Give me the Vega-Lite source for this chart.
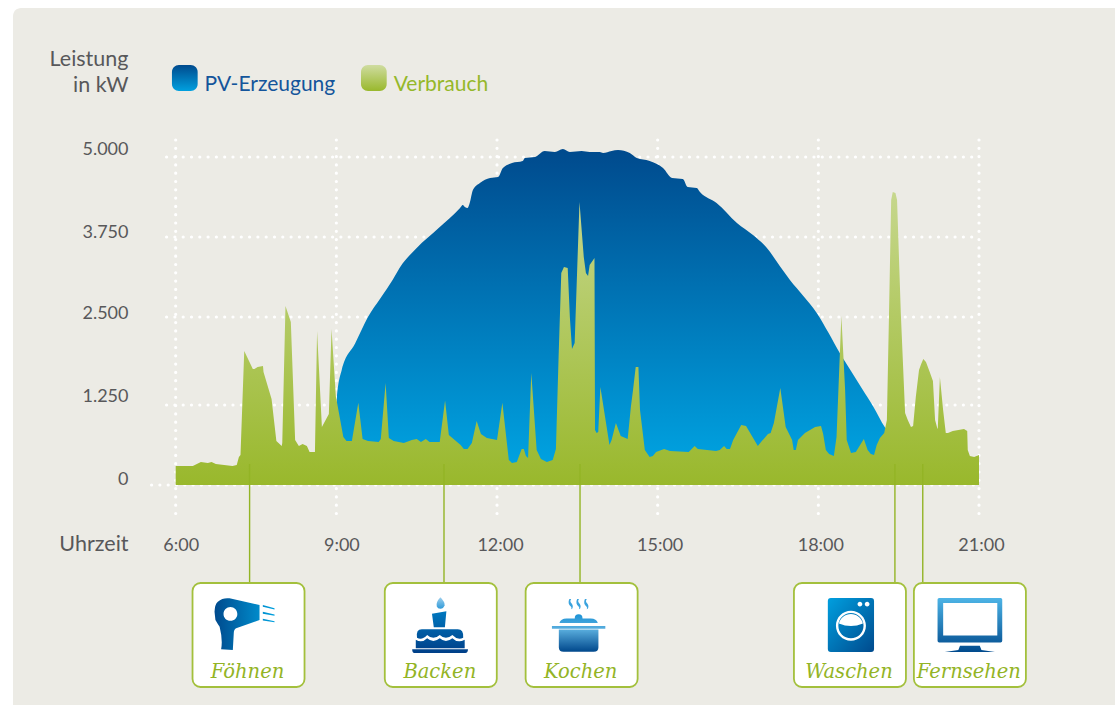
{
"$schema":"https://vega.github.io/schema/vega-lite/v6.json",
"width":1110,"height":705,
"autosize":{"type":"none"},
"padding":{"left":13,"top":8,"right":0,"bottom":0},
"background":"#ffffff",
"view":{"fill":"#ecebe5","stroke":null,"cornerRadius":8},
"datasets":{
"pv":[{"hour":8.97,"kW":0},{"hour":9.01,"kW":1349},{"hour":9.10,"kW":1747},{"hour":9.35,"kW":2123},{"hour":9.59,"kW":2500},{"hour":9.82,"kW":2789},{"hour":10.05,"kW":3078},{"hour":10.18,"kW":3266},{"hour":10.50,"kW":3578},{"hour":10.91,"kW":3890},{"hour":11.31,"kW":4203},{"hour":11.36,"kW":4250},{"hour":11.40,"kW":4219},{"hour":11.45,"kW":4203},{"hour":11.49,"kW":4281},{"hour":11.55,"kW":4484},{"hour":11.68,"kW":4594},{"hour":11.87,"kW":4672},{"hour":12.02,"kW":4688},{"hour":12.11,"kW":4828},{"hour":12.28,"kW":4906},{"hour":12.48,"kW":4938},{"hour":12.52,"kW":4984},{"hour":12.71,"kW":5000},{"hour":12.89,"kW":5094},{"hour":13.08,"kW":5078},{"hour":13.23,"kW":5125},{"hour":13.36,"kW":5078},{"hour":13.58,"kW":5094},{"hour":13.73,"kW":5078},{"hour":13.92,"kW":5078},{"hour":13.98,"kW":5063},{"hour":14.14,"kW":5094},{"hour":14.26,"kW":5109},{"hour":14.48,"kW":5063},{"hour":14.61,"kW":4984},{"hour":14.85,"kW":4938},{"hour":15.10,"kW":4828},{"hour":15.27,"kW":4672},{"hour":15.47,"kW":4656},{"hour":15.56,"kW":4531},{"hour":15.73,"kW":4516},{"hour":15.79,"kW":4453},{"hour":16.10,"kW":4281},{"hour":16.48,"kW":3969},{"hour":16.78,"kW":3781},{"hour":17.04,"kW":3578},{"hour":17.28,"kW":3297},{"hour":17.47,"kW":3078},{"hour":17.72,"kW":2828},{"hour":17.97,"kW":2562},{"hour":18.19,"kW":2275},{"hour":18.40,"kW":1988},{"hour":18.61,"kW":1733},{"hour":18.82,"kW":1477},{"hour":19.03,"kW":1219},{"hour":19.24,"kW":906},{"hour":19.32,"kW":813},{"hour":19.36,"kW":0}],
"use":[{"hour":6.00,"kW":297},{"hour":6.32,"kW":297},{"hour":6.47,"kW":359},{"hour":6.60,"kW":344},{"hour":6.67,"kW":359},{"hour":6.75,"kW":328},{"hour":7.06,"kW":297},{"hour":7.14,"kW":313},{"hour":7.18,"kW":438},{"hour":7.21,"kW":469},{"hour":7.28,"kW":2017},{"hour":7.44,"kW":1761},{"hour":7.47,"kW":1761},{"hour":7.53,"kW":1790},{"hour":7.63,"kW":1804},{"hour":7.64,"kW":1719},{"hour":7.79,"kW":1335},{"hour":7.88,"kW":688},{"hour":7.98,"kW":609},{"hour":7.99,"kW":656},{"hour":8.05,"kW":2672},{"hour":8.15,"kW":2429},{"hour":8.23,"kW":703},{"hour":8.30,"kW":609},{"hour":8.37,"kW":641},{"hour":8.45,"kW":609},{"hour":8.50,"kW":516},{"hour":8.58,"kW":516},{"hour":8.60,"kW":516},{"hour":8.64,"kW":2301},{"hour":8.73,"kW":906},{"hour":8.86,"kW":1109},{"hour":8.91,"kW":2329},{"hour":8.99,"kW":1378},{"hour":9.13,"kW":750},{"hour":9.19,"kW":688},{"hour":9.29,"kW":688},{"hour":9.41,"kW":1281},{"hour":9.49,"kW":719},{"hour":9.59,"kW":688},{"hour":9.79,"kW":672},{"hour":9.83,"kW":719},{"hour":9.92,"kW":1562},{"hour":9.98,"kW":734},{"hour":10.07,"kW":688},{"hour":10.26,"kW":656},{"hour":10.41,"kW":703},{"hour":10.50,"kW":719},{"hour":10.58,"kW":672},{"hour":10.67,"kW":719},{"hour":10.74,"kW":672},{"hour":10.93,"kW":672},{"hour":11.03,"kW":1313},{"hour":11.10,"kW":781},{"hour":11.32,"kW":625},{"hour":11.38,"kW":563},{"hour":11.45,"kW":563},{"hour":11.53,"kW":656},{"hour":11.62,"kW":1000},{"hour":11.70,"kW":797},{"hour":11.81,"kW":734},{"hour":12.00,"kW":703},{"hour":12.10,"kW":1281},{"hour":12.22,"kW":391},{"hour":12.28,"kW":344},{"hour":12.37,"kW":359},{"hour":12.46,"kW":563},{"hour":12.50,"kW":563},{"hour":12.54,"kW":453},{"hour":12.58,"kW":422},{"hour":12.64,"kW":1704},{"hour":12.74,"kW":547},{"hour":12.82,"kW":406},{"hour":12.93,"kW":359},{"hour":13.04,"kW":391},{"hour":13.10,"kW":563},{"hour":13.15,"kW":1932},{"hour":13.20,"kW":3188},{"hour":13.25,"kW":3281},{"hour":13.32,"kW":3266},{"hour":13.36,"kW":2500},{"hour":13.40,"kW":2045},{"hour":13.45,"kW":2130},{"hour":13.54,"kW":4297},{"hour":13.62,"kW":3438},{"hour":13.66,"kW":3188},{"hour":13.70,"kW":3141},{"hour":13.73,"kW":3313},{"hour":13.82,"kW":3422},{"hour":13.83,"kW":859},{"hour":13.86,"kW":813},{"hour":13.89,"kW":828},{"hour":13.93,"kW":1506},{"hour":14.10,"kW":625},{"hour":14.14,"kW":703},{"hour":14.22,"kW":969},{"hour":14.31,"kW":766},{"hour":14.44,"kW":719},{"hour":14.50,"kW":1222},{"hour":14.54,"kW":1463},{"hour":14.59,"kW":1790},{"hour":14.64,"kW":1790},{"hour":14.67,"kW":1172},{"hour":14.76,"kW":547},{"hour":14.85,"kW":438},{"hour":14.91,"kW":453},{"hour":14.97,"kW":516},{"hour":15.12,"kW":563},{"hour":15.23,"kW":531},{"hour":15.58,"kW":516},{"hour":15.69,"kW":609},{"hour":15.75,"kW":563},{"hour":16.09,"kW":531},{"hour":16.16,"kW":547},{"hour":16.24,"kW":609},{"hour":16.29,"kW":563},{"hour":16.35,"kW":563},{"hour":16.41,"kW":703},{"hour":16.56,"kW":938},{"hour":16.65,"kW":922},{"hour":16.87,"kW":609},{"hour":16.93,"kW":672},{"hour":17.06,"kW":797},{"hour":17.11,"kW":813},{"hour":17.17,"kW":969},{"hour":17.29,"kW":1491},{"hour":17.39,"kW":906},{"hour":17.51,"kW":703},{"hour":17.54,"kW":547},{"hour":17.58,"kW":547},{"hour":17.62,"kW":703},{"hour":17.75,"kW":813},{"hour":17.94,"kW":906},{"hour":18.05,"kW":922},{"hour":18.09,"kW":797},{"hour":18.14,"kW":547},{"hour":18.20,"kW":484},{"hour":18.29,"kW":453},{"hour":18.34,"kW":750},{"hour":18.43,"kW":2514},{"hour":18.50,"kW":1463},{"hour":18.53,"kW":703},{"hour":18.61,"kW":500},{"hour":18.70,"kW":516},{"hour":18.85,"kW":719},{"hour":18.92,"kW":547},{"hour":18.98,"kW":484},{"hour":19.04,"kW":469},{"hour":19.09,"kW":625},{"hour":19.15,"kW":734},{"hour":19.23,"kW":813},{"hour":19.28,"kW":1016},{"hour":19.32,"kW":2563},{"hour":19.36,"kW":4328},{"hour":19.39,"kW":4453},{"hour":19.44,"kW":4438},{"hour":19.47,"kW":4328},{"hour":19.54,"kW":2563},{"hour":19.62,"kW":1125},{"hour":19.67,"kW":1016},{"hour":19.73,"kW":906},{"hour":19.77,"kW":922},{"hour":19.82,"kW":1364},{"hour":19.88,"kW":1747},{"hour":19.92,"kW":1832},{"hour":19.96,"kW":1903},{"hour":20.01,"kW":1861},{"hour":20.08,"kW":1719},{"hour":20.14,"kW":1591},{"hour":20.18,"kW":1016},{"hour":20.22,"kW":891},{"hour":20.23,"kW":875},{"hour":20.27,"kW":1648},{"hour":20.33,"kW":1172},{"hour":20.38,"kW":813},{"hour":20.42,"kW":813},{"hour":20.51,"kW":844},{"hour":20.72,"kW":875},{"hour":20.78,"kW":844},{"hour":20.79,"kW":547},{"hour":20.83,"kW":453},{"hour":20.91,"kW":438},{"hour":21.00,"kW":469}],
"appliances":[
{"name":"Föhnen","hour":7.38,"card":7.36},
{"name":"Backen","hour":11.01,"card":10.95},
{"name":"Kochen","hour":13.55,"card":13.58},
{"name":"Waschen","hour":19.43,"card":18.59},
{"name":"Fernsehen","hour":19.95,"card":20.83}]
},
"layer":[
{"data":{"values":[{"kW":1250},{"kW":2500},{"kW":3750},{"kW":5000}]},
 "mark":{"type":"rule","stroke":"#ffffff","strokeWidth":3.2,"strokeDash":[0,8.3],"strokeCap":"round"},
 "encoding":{
  "x":{"datum":5.83,"type":"quantitative","scale":{"domain":[2.962,23.689],"nice":false,"zero":false},
   "axis":{"values":[6,9,12,15,18,21],"labelExpr":"datum.value+':00'","orient":"bottom","offset":-177,"grid":false,"domain":false,"ticks":false,"labelPadding":0,"labelBaseline":"top","labelFont":"Lato","labelFontSize":18,"labelColor":"#58585a","labelOffset":{"condition":[{"test":"datum.value==6","value":5},{"test":"datum.value==9","value":5},{"test":"datum.value==12","value":3}],"value":2},"title":"Uhrzeit","titleFont":"Lato","titleFontSize":21.5,"titleFontWeight":"normal","titleColor":"#58585a","titleAlign":"right","titleBaseline":"top","titleX":115,"titleY":-3,"labelOverlap":false}},
  "x2":{"datum":21},
  "y":{"field":"kW","type":"quantitative","scale":{"domain":[-3562.5,0,1250,2500,3750,5000,7328],"range":[705,477,397,309,229,149,0],"nice":false,"zero":false,"clamp":false},
   "axis":{"values":[0,1250,2500,3750,5000],"labelExpr":"replace(format(datum.value,','),',','.')","orient":"left","offset":-115,"grid":false,"domain":false,"ticks":false,"labelPadding":0,"labelFont":"Lato","labelFontSize":18,"labelColor":"#58585a","labelOffset":{"condition":[{"test":"datum.value==5000","value":-8},{"test":"datum.value==3750","value":-5},{"test":"datum.value==2500","value":-4},{"test":"datum.value==1250","value":-9}],"value":-6},"title":["Leistung","in kW"],"titleFont":"Lato","titleFontSize":21.5,"titleFontWeight":"normal","titleColor":"#58585a","titleAngle":0,"titleAlign":"right","titleBaseline":"alphabetic","titleX":0,"titleY":57,"titleLineHeight":26,"labelOverlap":false}}
 }},
{"data":{"values":[{"kW":0}]},
 "mark":{"type":"rule","stroke":"#ffffff","strokeWidth":3.2,"strokeDash":[0,8.3],"strokeCap":"round"},
 "encoding":{"x":{"datum":5.55,"type":"quantitative"},"x2":{"datum":21},"y":{"field":"kW","type":"quantitative"}}},
{"data":{"values":[{"hour":6},{"hour":9},{"hour":12},{"hour":15},{"hour":18},{"hour":21}]},
 "mark":{"type":"rule","stroke":"#ffffff","strokeWidth":3.2,"strokeDash":[0,8.3],"strokeCap":"round"},
 "encoding":{"x":{"field":"hour","type":"quantitative"},"y":{"datum":5266,"type":"quantitative"},"y2":{"datum":-453}}},
{"data":{"name":"pv"},
 "mark":{"type":"area","interpolate":"monotone","fill":{"gradient":"linear","x1":0,"y1":0,"x2":0,"y2":1,"stops":[{"offset":0,"color":"#004a8d"},{"offset":1,"color":"#00a8e6"}]}},
 "encoding":{"x":{"field":"hour","type":"quantitative"},"y":{"field":"kW","type":"quantitative","stack":null}}},
{"data":{"name":"use"},
 "mark":{"type":"area","interpolate":"linear","fill":{"gradient":"linear","x1":0,"y1":0,"x2":0,"y2":1,"stops":[{"offset":0,"color":"#c6d78d"},{"offset":1,"color":"#99b82c"}]}},
 "encoding":{"x":{"field":"hour","type":"quantitative"},"y":{"field":"kW","type":"quantitative","stack":null}}},
{"data":{"name":"appliances"},
 "mark":{"type":"rule","stroke":"#93b425","strokeWidth":1.4},
 "encoding":{"x":{"field":"hour","type":"quantitative"},"y":{"datum":328,"type":"quantitative"},"y2":{"datum":-1531}}},
{"data":{"name":"appliances"},
 "mark":{"type":"rect","width":112,"height":104,"cornerRadius":8,"fill":"#ffffff","stroke":"#a3c03c","strokeWidth":1.8},
 "encoding":{"x":{"field":"card","type":"quantitative"},"y":{"datum":-2344,"type":"quantitative"}}},
{"data":{"name":"appliances"},
 "mark":{"type":"text","font":"DejaVu Serif","fontStyle":"italic","fontSize":19.5,"color":"#93b425","dx":-1},
 "encoding":{"x":{"field":"card","type":"quantitative"},"y":{"datum":-2922,"type":"quantitative"},"text":{"field":"name"}}},
{"data":{"name":"appliances"},"transform":[{"filter":"datum.name=='Föhnen'"}],
 "mark":{"type":"point","filled":true,"opacity":1,"size":3600,"xOffset":-4,"shape":"M-1,-.44Q-.99,-.7-.89,-.78Q-.72,-.92-.5,-.89L.5,-.67L.5,-.17L-.28,.11Q-.36,.14-.36,.3L-.39,.83L-.78,.81Q-.72,.5-.83,.06Q-.9,-.05-.97,-.17ZM-.7,-.37A.23,.23 0 1,0 -.24,-.37A.23,.23 0 1,0 -.7,-.37ZM.61,-.67L1,-.56L1,-.52L.61,-.61ZM.61,-.44L1,-.35L1,-.31L.61,-.38ZM.61,-.21L1,-.13L1,-.09L.61,-.15Z","fill":{"gradient":"linear","x1":0,"y1":0,"x2":1,"y2":0,"stops":[{"offset":0,"color":"#004a8d"},{"offset":1,"color":"#00a0df"}]}},
 "encoding":{"x":{"field":"card","type":"quantitative"},"y":{"datum":-2188,"type":"quantitative"}}},
{"data":{"name":"appliances"},"transform":[{"filter":"datum.name=='Backen'"}],
 "mark":{"type":"point","filled":true,"opacity":1,"size":3600,"xOffset":-1,"shape":"M.02,-.93Q-.14,-.76-.1,-.62Q-.07,-.54,.02,-.54Q.12,-.54,.16,-.66Q.17,-.78,.02,-.93Z","fill":{"gradient":"linear","x1":0,"y1":0,"x2":0,"y2":1,"stops":[{"offset":0,"color":"#9fd0ee"},{"offset":1,"color":"#2f9ad8"}]}},
 "encoding":{"x":{"field":"card","type":"quantitative"},"y":{"datum":-2188,"type":"quantitative"}}},
{"data":{"name":"appliances"},"transform":[{"filter":"datum.name=='Backen'"}],
 "mark":{"type":"point","filled":true,"opacity":1,"size":3600,"xOffset":-1,"shape":"M-.26,-.38L.22,-.46L.17,.07L-.2,.07ZM-.76,.42Q-.8,.14-.6,.14L.6,.14Q.8,.14,.78,.42Q.6,.52,.42,.33Q.2,.52,0,.33Q-.22,.52-.42,.33Q-.6,.52-.76,.42ZM-.8,.49Q-.6,.62-.42,.44Q-.22,.62,0,.44Q.2,.62,.42,.44Q.6,.62,.83,.49L.83,.77L-.8,.77ZM-.92,.81L.94,.81Q.94,.93,.85,.93L-.85,.93Q-.92,.93-.92,.81Z","fill":{"gradient":"linear","x1":0,"y1":0,"x2":0,"y2":1,"stops":[{"offset":0,"color":"#0078bf"},{"offset":1,"color":"#003f88"}]}},
 "encoding":{"x":{"field":"card","type":"quantitative"},"y":{"datum":-2188,"type":"quantitative"}}},
{"data":{"name":"appliances"},"transform":[{"filter":"datum.name=='Kochen'"}],
 "mark":{"type":"point","filled":true,"opacity":1,"size":3600,"xOffset":-3,"shape":"M-.31,-.87Q-.38,-.72-.26,-.62Q-.22,-.58-.25,-.53L-.21,-.55Q-.16,-.65-.26,-.75Q-.3,-.8-.25,-.87ZM-.05,-.87Q-.12,-.72,0,-.62Q.04,-.58,.01,-.53L.05,-.55Q.1,-.65,0,-.75Q-.04,-.8,.01,-.87ZM.21,-.87Q.14,-.72,.26,-.62Q.3,-.58,.27,-.53L.31,-.55Q.36,-.65,.26,-.75Q.22,-.8,.27,-.87Z","fill":"#3aa3de"},
 "encoding":{"x":{"field":"card","type":"quantitative"},"y":{"datum":-2188,"type":"quantitative"}}},
{"data":{"name":"appliances"},"transform":[{"filter":"datum.name=='Kochen'"}],
 "mark":{"type":"point","filled":true,"opacity":1,"size":3600,"xOffset":-3,"shape":"M-.13,-.22Q-.13,-.36,0,-.36Q.13,-.36,.13,-.22ZM-.64,-.07Q-.6,-.22-.4,-.22L.4,-.22Q.6,-.22,.64,-.07ZM-.89,.03L.89,.03L.89,.12L-.89,.12ZM-.66,.15L.66,.15L.66,.75Q.66,.89,.5,.89L-.5,.89Q-.66,.89-.66,.75Z","fill":{"gradient":"linear","x1":0,"y1":0,"x2":0,"y2":1,"stops":[{"offset":0,"color":"#1c93d6"},{"offset":0.4,"color":"#5aaede"},{"offset":1,"color":"#00488c"}]}},
 "encoding":{"x":{"field":"card","type":"quantitative"},"y":{"datum":-2188,"type":"quantitative"}}},
{"data":{"name":"appliances"},"transform":[{"filter":"datum.name=='Waschen'"}],
 "mark":{"type":"point","filled":true,"opacity":1,"size":3600,"xOffset":1,"shape":"M-.67,-.9L.67,-.9Q.77,-.9,.77,-.8L.77,.8Q.77,.9,.67,.9L-.67,.9Q-.77,.9-.77,.8L-.77,-.8Q-.77,-.9-.67,-.9Z","fill":{"gradient":"linear","x1":0,"y1":0,"x2":1,"y2":1,"stops":[{"offset":0,"color":"#009fdf"},{"offset":1,"color":"#004a8d"}]}},
 "encoding":{"x":{"field":"card","type":"quantitative"},"y":{"datum":-2188,"type":"quantitative"}}},
{"data":{"name":"appliances"},"transform":[{"filter":"datum.name=='Waschen'"}],
 "mark":{"type":"point","filled":true,"opacity":1,"size":3600,"xOffset":1,"fill":"#ffffff","shape":"M-.5,.02A.5,.5 0 1,1 .5,.02A.5,.5 0 1,1 -.5,.02ZM-.42,.02A.42,.42 0 1,0 .42,.02A.42,.42 0 1,0 -.42,.02ZM-.4,-.05A.41,.41 0 0,1 .4,-.05Q0,.12-.4,-.05ZM.22,-.7A.08,.08 0 1,1 .38,-.7A.08,.08 0 1,1 .22,-.7ZM.46,-.7A.08,.08 0 1,1 .62,-.7A.08,.08 0 1,1 .46,-.7Z"},
 "encoding":{"x":{"field":"card","type":"quantitative"},"y":{"datum":-2188,"type":"quantitative"}}},
{"data":{"name":"appliances"},"transform":[{"filter":"datum.name=='Fernsehen'"}],
 "mark":{"type":"point","filled":true,"opacity":1,"size":4356,"shape":"M-.93,-.82L.93,-.82Q.98,-.82,.98,-.77L.98,.48Q.98,.53,.93,.53L-.93,.53Q-.98,.53-.98,.48L-.98,-.77Q-.98,-.82-.93,-.82ZM-.3,.63L.3,.63L.35,.76L.76,.82L-.76,.82L-.35,.76Z","fill":{"gradient":"linear","x1":0,"y1":0,"x2":0,"y2":1,"stops":[{"offset":0,"color":"#4db4e6"},{"offset":1,"color":"#004a8d"}]}},
 "encoding":{"x":{"field":"card","type":"quantitative"},"y":{"datum":-2188,"type":"quantitative"}}},
{"data":{"name":"appliances"},"transform":[{"filter":"datum.name=='Fernsehen'"}],
 "mark":{"type":"point","filled":true,"opacity":1,"size":4356,"fill":"#ffffff","shape":"M-.81,-.67L.83,-.67L.83,.32L-.81,.32Z"},
 "encoding":{"x":{"field":"card","type":"quantitative"},"y":{"datum":-2188,"type":"quantitative"}}},
{"data":{"values":[{"series":"PV-Erzeugung"}]},
 "mark":{"type":"rect","cornerRadius":7,"fill":{"gradient":"linear","x1":0,"y1":0,"x2":0,"y2":1,"stops":[{"offset":0,"color":"#004a8d"},{"offset":1,"color":"#00a0df"}]}},
 "encoding":{"x":{"datum":5.93,"type":"quantitative"},"x2":{"datum":6.41},"y":{"datum":6437,"type":"quantitative"},"y2":{"datum":6031}}},
{"data":{"values":[{"series":"Verbrauch"}]},
 "mark":{"type":"rect","cornerRadius":7,"fill":{"gradient":"linear","x1":0,"y1":0,"x2":0,"y2":1,"stops":[{"offset":0,"color":"#cfdca0"},{"offset":1,"color":"#99b82c"}]}},
 "encoding":{"x":{"datum":9.46,"type":"quantitative"},"x2":{"datum":9.94},"y":{"datum":6437,"type":"quantitative"},"y2":{"datum":6031}}},
{"data":{"values":[{"series":"PV-Erzeugung"}]},
 "mark":{"type":"text","font":"Lato","fontSize":21,"align":"left","color":"#14559b"},
 "encoding":{"x":{"datum":6.54,"type":"quantitative"},"y":{"datum":6125,"type":"quantitative"},"text":{"field":"series"}}},
{"data":{"values":[{"series":"Verbrauch"}]},
 "mark":{"type":"text","font":"Lato","fontSize":21,"align":"left","color":"#95b82a"},
 "encoding":{"x":{"datum":10.07,"type":"quantitative"},"y":{"datum":6125,"type":"quantitative"},"text":{"field":"series"}}}
]
}
